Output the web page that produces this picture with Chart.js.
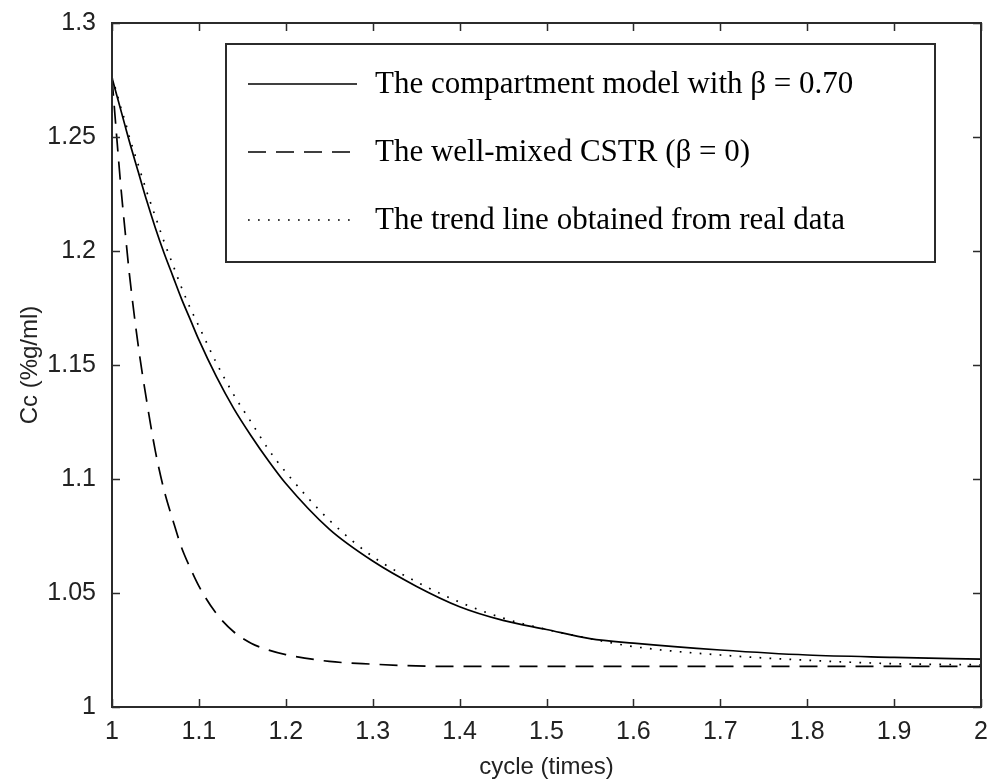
<!DOCTYPE html>
<html>
<head>
<meta charset="utf-8">
<script src="https://cdn.jsdelivr.net/npm/chart.js@4"></script>
<style>
  html, body { margin: 0; padding: 0; background: #ffffff; }
  #wrap { width: 991px; height: 782px; position: relative; background: #ffffff; }
</style>
</head>
<body>
<div id="wrap"><canvas id="c" width="991" height="782"></canvas></div>
<script>
// ---- data ----
const cycles = [1.000, 1.005, 1.010, 1.015, 1.020, 1.030, 1.040, 1.050, 1.060, 1.070,
                1.080, 1.090, 1.100, 1.120, 1.140, 1.160, 1.180, 1.200, 1.250, 1.300,
                1.350, 1.400, 1.450, 1.500, 1.550, 1.600, 1.700, 1.800, 1.900, 2.000];

const compartmentModel = [1.276, 1.269, 1.262, 1.255, 1.248, 1.235, 1.222, 1.210, 1.199, 1.189,
                          1.179, 1.170, 1.161, 1.145, 1.131, 1.119, 1.108, 1.098, 1.078, 1.064,
                          1.053, 1.044, 1.038, 1.034, 1.030, 1.028, 1.025, 1.0228, 1.0218, 1.021];

const wellMixedCSTR = [1.276, 1.252, 1.229, 1.209, 1.190, 1.159, 1.134, 1.112, 1.095, 1.082,
                       1.070, 1.061, 1.053, 1.041, 1.033, 1.028, 1.025, 1.023, 1.020, 1.0188,
                       1.018, 1.0178, 1.0178, 1.0178, 1.0178, 1.0178, 1.0178, 1.0178, 1.0178, 1.0178];

const trendLine = [1.276, 1.270, 1.263, 1.257, 1.250, 1.238, 1.226, 1.215, 1.204, 1.194,
                   1.184, 1.175, 1.167, 1.151, 1.137, 1.125, 1.113, 1.103, 1.082, 1.066,
                   1.055, 1.046, 1.039, 1.034, 1.030, 1.0265, 1.0228, 1.0205, 1.019, 1.0185];

const seriesLabels = [
  "The compartment model with \u03B2 = 0.70",
  "The well-mixed CSTR (\u03B2 = 0)",
  "The trend line obtained from real data"
];

const xTitle = "cycle (times)";
const yTitle = "Cc (%g/ml)";

// ---- helpers ----
function pts(ys) { return cycles.map((x, i) => ({ x: x, y: ys[i] })); }

const frameColor = '#2b2b2b';
const tickFont = { family: "'Liberation Sans', Arial, sans-serif", size: 25 };
const titleFont = { family: "'Liberation Sans', Arial, sans-serif", size: 24 };

// Frame with inward ticks on all four sides
const framePlugin = {
  id: 'frame',
  afterDraw(chart) {
    const { ctx, chartArea: a, scales } = chart;
    ctx.save();
    ctx.strokeStyle = frameColor;
    ctx.lineWidth = 2;
    ctx.strokeRect(a.left, a.top, a.right - a.left, a.bottom - a.top);
    ctx.lineWidth = 1.5;
    const tl = 8;
    ctx.beginPath();
    scales.x.ticks.forEach(t => {
      const px = Math.round(scales.x.getPixelForValue(t.value)) + 0.5;
      ctx.moveTo(px, a.bottom); ctx.lineTo(px, a.bottom - tl);
      ctx.moveTo(px, a.top); ctx.lineTo(px, a.top + tl);
    });
    scales.y.ticks.forEach(t => {
      const py = Math.round(scales.y.getPixelForValue(t.value)) + 0.5;
      ctx.moveTo(a.left, py); ctx.lineTo(a.left + tl, py);
      ctx.moveTo(a.right, py); ctx.lineTo(a.right - tl, py);
    });
    ctx.stroke();
    ctx.restore();
  }
};

// Boxed legend inside the plot area
const legendPlugin = {
  id: 'boxLegend',
  afterDraw(chart) {
    const { ctx } = chart;
    const left = 226, top = 44, right = 935, bottom = 262;
    ctx.save();
    ctx.fillStyle = '#ffffff';
    ctx.fillRect(left, top, right - left, bottom - top);
    ctx.strokeStyle = frameColor;
    ctx.lineWidth = 2;
    ctx.strokeRect(left, top, right - left, bottom - top);
    const rows = [84, 152, 220];
    chart.data.datasets.forEach((ds, i) => {
      const y = rows[i];
      ctx.beginPath();
      ctx.setLineDash(ds.borderDash || []);
      ctx.lineWidth = ds.borderWidth;
      ctx.strokeStyle = ds.borderColor;
      ctx.moveTo(248, y); ctx.lineTo(357, y);
      ctx.stroke();
      ctx.setLineDash([]);
      ctx.fillStyle = '#000000';
      ctx.font = "31px 'Liberation Serif', 'Times New Roman', serif";
      ctx.textBaseline = 'middle';
      ctx.textAlign = 'left';
      ctx.fillText(ds.label, 375, y + 1);
    });
    ctx.restore();
  }
};

new Chart(document.getElementById('c'), {
  type: 'line',
  data: {
    datasets: [
      { label: seriesLabels[0], data: pts(compartmentModel), borderColor: '#000000', borderWidth: 1.7,
        borderDash: [], pointRadius: 0, cubicInterpolationMode: 'monotone', fill: false },
      { label: seriesLabels[1], data: pts(wellMixedCSTR), borderColor: '#000000', borderWidth: 1.7,
        borderDash: [18, 10], pointRadius: 0, cubicInterpolationMode: 'monotone', fill: false },
      { label: seriesLabels[2], data: pts(trendLine), borderColor: '#000000', borderWidth: 1.7,
        borderDash: [1.7, 8.3], pointRadius: 0, cubicInterpolationMode: 'monotone', fill: false }
    ]
  },
  options: {
    responsive: false,
    devicePixelRatio: 1,
    animation: false,
    layout: { padding: { left: 0, top: 22, right: 10, bottom: 0 } },
    plugins: { legend: { display: false }, tooltip: { enabled: false } },
    scales: {
      x: {
        type: 'linear', min: 1, max: 2,
        grid: { display: false },
        border: { display: false },
        ticks: {
          stepSize: 0.1, color: '#222222', font: tickFont, padding: 2,
          callback: v => String(Math.round(v * 10) / 10)
        },
        title: { display: true, text: xTitle, color: '#222222', font: titleFont, padding: { top: 0, bottom: 0 } },
        afterFit(s) { s.height = 75; }
      },
      y: {
        type: 'linear', min: 1, max: 1.3,
        grid: { display: false },
        border: { display: false },
        ticks: {
          stepSize: 0.05, color: '#222222', font: tickFont, padding: 8,
          callback: v => String(Math.round(v * 100) / 100)
        },
        title: { display: true, text: yTitle, color: '#222222', font: titleFont, padding: { top: 16, bottom: 0 } },
        afterFit(s) { s.width = 112; }
      }
    }
  },
  plugins: [framePlugin, legendPlugin]
});
</script>
</body>
</html>
